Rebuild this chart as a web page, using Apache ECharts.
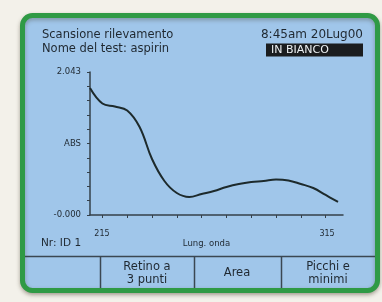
<!DOCTYPE html>
<html>
<head>
<meta charset="utf-8">
<script src="https://cdn.jsdelivr.net/npm/echarts@6/dist/echarts.min.js"></script>
<style>
  html, body { margin: 0; padding: 0; background: #f3f1ea; }
  #chart { width: 382px; height: 302px; }
</style>
</head>
<body>
<div id="chart"></div>
<script>
// spectrum, every 5 nm
var wavelengths = [215, 220, 225, 230, 235, 240, 245, 250, 255, 260, 265, 270, 275, 280, 285, 290, 295, 300, 305, 310, 315];
var absorbance = [1.814, 1.593, 1.550, 1.493, 1.257, 0.800, 0.486, 0.314, 0.257, 0.300, 0.343, 0.400, 0.443, 0.471, 0.486, 0.507, 0.493, 0.443, 0.386, 0.286, 0.186];

var xTicks = [220, 230, 240, 250, 260, 270, 280, 290, 300, 310];
var xLabels = [215, 315];
var yTicks = [0, 0.2043, 0.4086, 0.6129, 0.8172, 1.0215, 1.2258, 1.4301, 1.6344, 1.8387, 2.043];
var yLabelValues = [0, 1.0215, 2.043];
var yLabelText = ['-0.000', 'ABS', '2.043'];

var ink = '#1f2830';
var font = 'DejaVu Sans';

var chart = echarts.init(document.getElementById('chart'));

var data = wavelengths.map(function (w, i) { return [w, absorbance[i]]; });

chart.setOption({
    animation: false,
    backgroundColor: '#f3f1ea',
    graphic: [
        {
            type: 'rect', z: -10,
            shape: { x: 22.5, y: 15.5, width: 355, height: 275, r: 10 },
            style: { fill: '#a0c6ea', stroke: '#2f9a45', lineWidth: 5,
                shadowBlur: 4, shadowColor: 'rgba(60,50,30,0.35)', shadowOffsetY: 2 }
        },
        { type: 'line', z: -5, shape: { x1: 25, y1: 256.5, x2: 375, y2: 256.5 }, style: { stroke: '#3b4752', lineWidth: 1.5 } },
        { type: 'line', z: -5, shape: { x1: 100.5, y1: 256, x2: 100.5, y2: 288 }, style: { stroke: '#3b4752', lineWidth: 1.5 } },
        { type: 'line', z: -5, shape: { x1: 194.5, y1: 256, x2: 194.5, y2: 288 }, style: { stroke: '#3b4752', lineWidth: 1.5 } },
        { type: 'line', z: -5, shape: { x1: 281.5, y1: 256, x2: 281.5, y2: 288 }, style: { stroke: '#3b4752', lineWidth: 1.5 } },
        { type: 'text', x: 42, y: 35, style: { text: 'Scansione rilevamento', fill: ink, font: '11.5px ' + font, verticalAlign: 'middle' } },
        { type: 'text', x: 42, y: 49, style: { text: 'Nome del test: aspirin', fill: ink, font: '11.5px ' + font, verticalAlign: 'middle' } },
        { type: 'text', x: 363, y: 35, style: { text: '8:45am 20Lug00', fill: ink, font: '12px ' + font, align: 'right', verticalAlign: 'middle' } },
        { type: 'rect', shape: { x: 266, y: 43.5, width: 97, height: 13 }, style: { fill: '#1b1d1f' } },
        { type: 'text', x: 271, y: 50.5, style: { text: 'IN BIANCO', fill: '#eef2f4', font: '11px ' + font, verticalAlign: 'middle' } },
        { type: 'text', x: 41, y: 243, style: { text: 'Nr: ID 1', fill: ink, font: '10.5px ' + font, verticalAlign: 'middle' } },
        { type: 'text', x: 147, y: 267, style: { text: 'Retino a', fill: ink, font: '11.5px ' + font, align: 'center', verticalAlign: 'middle' } },
        { type: 'text', x: 147, y: 280, style: { text: '3 punti', fill: ink, font: '11.5px ' + font, align: 'center', verticalAlign: 'middle' } },
        { type: 'text', x: 237, y: 273, style: { text: 'Area', fill: ink, font: '11.5px ' + font, align: 'center', verticalAlign: 'middle' } },
        { type: 'text', x: 328, y: 267, style: { text: 'Picchi e', fill: ink, font: '11.5px ' + font, align: 'center', verticalAlign: 'middle' } },
        { type: 'text', x: 328, y: 280, style: { text: 'minimi', fill: ink, font: '11.5px ' + font, align: 'center', verticalAlign: 'middle' } }
    ],
    grid: { left: 90, top: 72, width: 253, height: 143 },
    xAxis: {
        type: 'value',
        min: 215,
        max: 317,
        name: 'Lung. onda',
        nameLocation: 'middle',
        nameGap: 20,
        nameTextStyle: { color: ink, fontFamily: font, fontSize: 8.5, padding: [0, 20, 0, 0] },
        splitLine: { show: false },
        axisLine: { lineStyle: { color: '#34404a', width: 1.5 } },
        axisTick: { show: true, customValues: xTicks, length: 3, lineStyle: { color: '#34404a', width: 1 } },
        axisLabel: {
            customValues: xLabels,
            margin: 15,
            formatter: function (v) { return v === 215 ? '{l|' + v + '}' : '{r|' + v + '}'; },
            rich: {
                l: { color: ink, fontFamily: font, fontSize: 8, padding: [0, 0, 0, 24] },
                r: { color: ink, fontFamily: font, fontSize: 8, padding: [0, 22, 0, 0] }
            }
        }
    },
    yAxis: {
        type: 'value',
        min: 0,
        max: 2.043,
        splitLine: { show: false },
        axisLine: { lineStyle: { color: '#34404a', width: 1.5 } },
        axisTick: { show: true, customValues: yTicks, length: 3, lineStyle: { color: '#34404a', width: 1 } },
        axisLabel: {
            customValues: yLabelValues,
            margin: 9,
            color: ink,
            fontFamily: font,
            fontSize: 8.5,
            formatter: function (v) { return yLabelText[yLabelValues.indexOf(v)]; }
        }
    },
    series: [{
        type: 'line',
        data: data,
        smooth: 0.4,
        showSymbol: false,
        lineStyle: { color: '#1d2a2c', width: 2 }
    }]
});
</script>
</body>
</html>
